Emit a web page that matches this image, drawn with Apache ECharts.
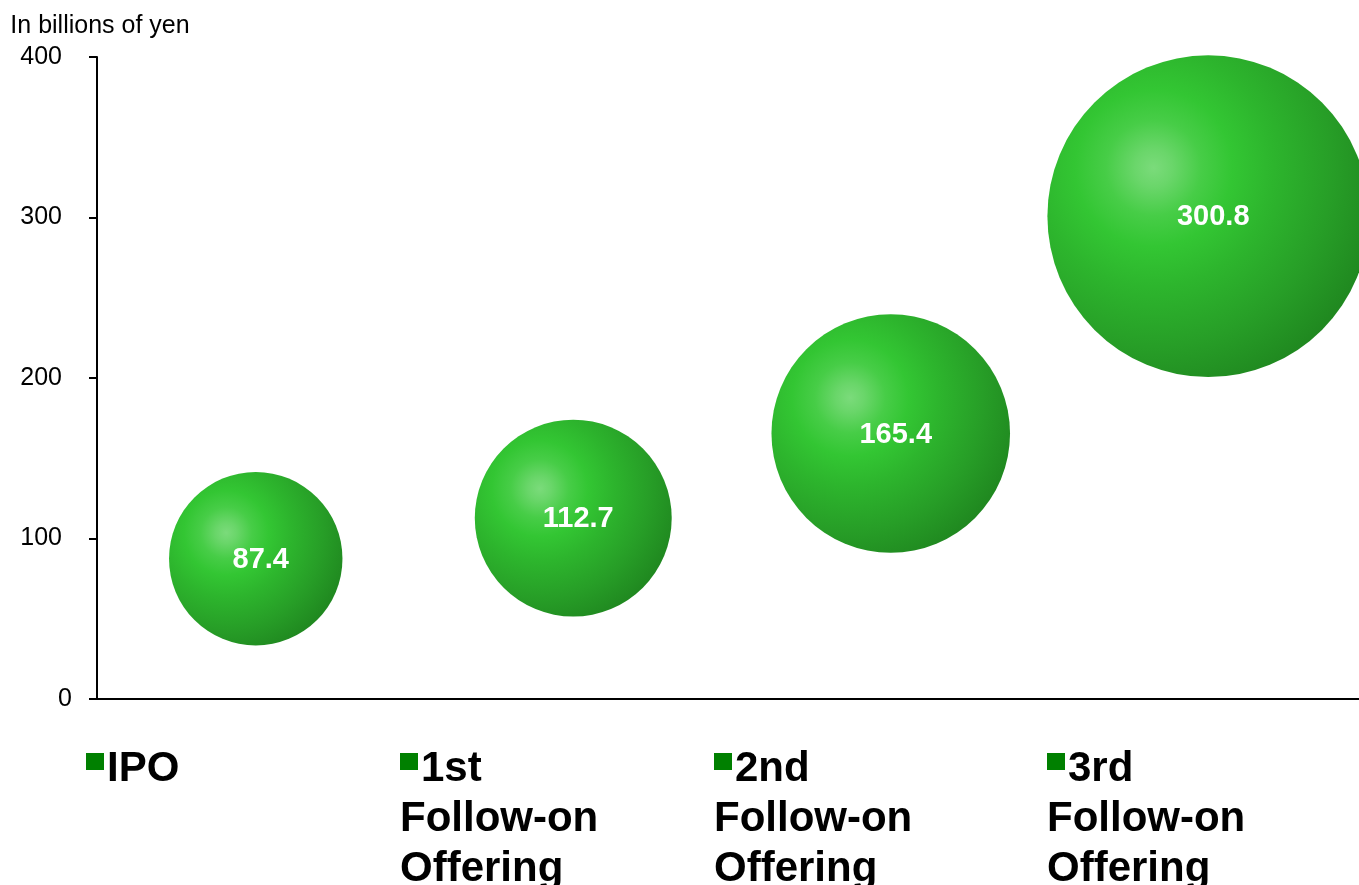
<!DOCTYPE html>
<html>
<head>
<meta charset="utf-8">
<title>Offering sizes</title>
<script src="https://cdn.jsdelivr.net/npm/echarts@6/dist/echarts.min.js"></script>
<style>
  html, body { margin: 0; padding: 0; background: #fff; }
  #chart { width: 1359px; height: 885px; }
</style>
</head>
<body>
<div id="chart"></div>
<script>
// Offering names and amounts raised (billions of yen)
const offerings = ['IPO', '1st Follow-on Offering', '2nd Follow-on Offering', '3rd Follow-on Offering'];
const amounts = [87.4, 112.7, 165.4, 300.8];
const yTicks = [0, 100, 200, 300, 400];
const unitLabel = 'In billions of yen';

// left edges of the legend blocks under the plot
const legendLeft = [86, 400, 714, 1047];
const LEGEND_GREEN = '#008000';

const FONT = '"Liberation Sans", Arial, sans-serif';

// shaded sphere fill
const sphere = {
  type: 'radial', x: 0.33, y: 0.35, r: 0.74,
  colorStops: [
    { offset: 0, color: '#7bdb7b' },
    { offset: 0.08, color: '#6ad66a' },
    { offset: 0.2, color: '#47cd47' },
    { offset: 0.33, color: '#33c633' },
    { offset: 0.5, color: '#2db52d' },
    { offset: 0.75, color: '#279e27' },
    { offset: 1, color: '#1f861f' }
  ]
};

const series = offerings.map((name, i) => ({
  name: name,
  type: 'scatter',
  data: [[name, amounts[i]]],
  symbolSize: d => Math.sqrt(d[1]) * 18.55,
  itemStyle: { color: sphere, opacity: 1 },
  emphasis: { disabled: true },
  label: {
    show: true,
    position: 'inside',
    offset: [5, 1],
    formatter: p => p.value[1].toFixed(1),
    color: '#fff',
    fontFamily: FONT,
    fontWeight: 'bold',
    fontSize: 29
  }
}));

// square markers of the legend
const legendMarks = offerings.map((name, i) => ({
  data: [{ name: name, itemStyle: { color: LEGEND_GREEN } }],
  left: legendLeft[i],
  top: 753,
  padding: 0,
  icon: 'rect',
  itemWidth: 18,
  itemHeight: 17,
  selectedMode: false,
  formatter: () => ''
}));

// legend names, wrapped one word per line, the first line after the marker
const legendNames = offerings.map((name, i) => ({
  data: [name],
  left: legendLeft[i] - 5,
  top: 748,
  padding: 0,
  itemWidth: 0,
  itemHeight: 0,
  selectedMode: false,
  formatter: n => {
    const words = n.split(' ');
    return '{sp|}{t|' + words[0] + '}' +
      words.slice(1).map(w => '\n{t|' + w + '}').join('');
  },
  textStyle: {
    rich: {
      sp: { width: 21 },
      t: { fontFamily: FONT, fontWeight: 'bold', fontSize: 42, lineHeight: 50, color: '#000' }
    }
  }
}));

const chart = echarts.init(document.getElementById('chart'), null, { renderer: 'canvas' });
chart.setOption({
  animation: false,
  backgroundColor: '#fff',
  // the plot runs a few pixels past the right edge of the canvas
  grid: { left: 97, top: 57, width: 1270, height: 642, containLabel: false, outerBoundsMode: 'none' },
  legend: legendMarks.concat(legendNames),
  xAxis: {
    type: 'category',
    data: offerings,
    boundaryGap: true,
    axisLine: { lineStyle: { color: '#000', width: 2 } },
    axisTick: { show: false },
    axisLabel: { show: false },
    splitLine: { show: false }
  },
  yAxis: {
    type: 'value',
    min: yTicks[0],
    max: yTicks[yTicks.length - 1],
    interval: yTicks[1] - yTicks[0],
    name: unitLabel,
    nameLocation: 'end',
    nameGap: 18,
    nameTextStyle: { fontFamily: FONT, fontSize: 25, color: '#000', align: 'center', padding: [0, 0, 0, 6] },
    axisLine: { show: true, lineStyle: { color: '#000', width: 2 } },
    axisTick: { show: true, inside: false, length: 8, lineStyle: { color: '#000', width: 2 } },
    axisLabel: {
      margin: 35,
      fontFamily: FONT,
      fontSize: 25,
      color: '#000',
      formatter: v => v === 0 ? '{z|0}' : String(v),
      rich: { z: { fontFamily: FONT, fontSize: 25, color: '#000', width: 4, align: 'left' } }
    },
    splitLine: { show: false }
  },
  series: series
});
</script>
</body>
</html>
